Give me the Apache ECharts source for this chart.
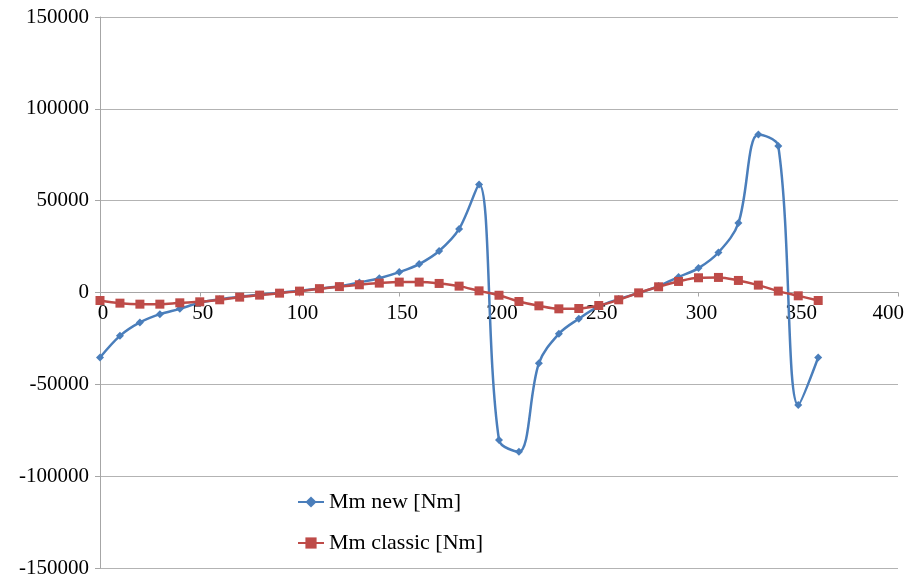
<!DOCTYPE html>
<html>
<head>
<meta charset="utf-8">
<script src="https://cdn.jsdelivr.net/npm/echarts@6/dist/echarts.min.js"></script>
<style>
  html, body { margin: 0; padding: 0; background: #ffffff; }
  #chart { width: 911px; height: 581px; }
</style>
</head>
<body>
<div id="chart"></div>
<script>
// Angle positions (x values)
const angles = [0, 10, 20, 30, 40, 50, 60, 70, 80, 90, 100, 110, 120, 130, 140, 150, 160, 170, 180,
  190, 200, 210, 220, 230, 240, 250, 260, 270, 280, 290, 300, 310, 320, 330, 340, 350, 360];

// Mm new [Nm]
const mmNew = [-35400, -23600, -16300, -11800, -8900, -5600, -3700, -2300, -1200, -200, 900, 2200, 3400,
  5500, 7800, 11100, 15500, 22600, 34600, 58800, -80300, -86700, -38500, -22500, -14300, -7600, -3600,
  -300, 3500, 8400, 13300, 21800, 37800, 86000, 79700, -61300, -35400];

// Mm classic [Nm]
const mmClassic = [-4350, -5800, -6350, -6350, -5620, -5070, -3980, -2530, -1430, -360, 750, 2100, 3200,
  4200, 5110, 5650, 5650, 4930, 3470, 900, -1500, -4890, -7260, -8890, -8710, -7070, -3980, -200, 3100,
  6020, 8020, 8200, 6560, 4020, 750, -1800, -4350];

const seriesNames = ['Mm new [Nm]', 'Mm classic [Nm]'];

const serifFont = '"Liberation Serif", "Times New Roman", serif';
const gridTop = 17, gridBottom = 13, chartHeight = 581;
const plotHeight = chartHeight - gridTop - gridBottom;

const chart = echarts.init(document.getElementById('chart'), null, { renderer: 'canvas' });

const option = {
  backgroundColor: '#ffffff',
  animation: false,
  grid: { left: 100, right: 13, top: gridTop, bottom: gridBottom, containLabel: false, outerBoundsMode: 'none' },
  legend: {
    orient: 'vertical',
    left: 292,
    top: 486,
    itemWidth: 26,
    itemHeight: 14,
    itemGap: 19,
    data: seriesNames,
    textStyle: { fontFamily: serifFont, fontSize: 22, color: '#000000', lineHeight: 22 }
  },
  xAxis: {
    type: 'value',
    min: 0,
    max: 400,
    interval: 50,
    position: 'bottom',
    // place the axis line (with ticks and labels) on the y = 0 line, in the middle of the plot
    offset: -plotHeight / 2,
    axisLine: { show: true, onZero: false, lineStyle: { color: '#a6a6a6', width: 1 } },
    axisTick: { show: true, length: 4, lineStyle: { color: '#a6a6a6' } },
    axisLabel: {
      fontFamily: serifFont, fontSize: 21, color: '#000000', margin: 10,
      alignMaxLabel: 'right', padding: [0, -6, 0, 0]
    },
    splitLine: { show: false }
  },
  yAxis: {
    type: 'value',
    min: -150000,
    max: 150000,
    interval: 50000,
    axisLine: { show: true, onZero: false, lineStyle: { color: '#a6a6a6', width: 1 } },
    axisTick: { show: true, length: 5, lineStyle: { color: '#a6a6a6' } },
    axisLabel: {
      fontFamily: serifFont, fontSize: 21, color: '#000000', margin: 11,
      formatter: function (v) { return String(v); }
    },
    splitLine: { show: true, lineStyle: { color: '#b3b3b3', width: 1 } }
  },
  series: [
    {
      name: seriesNames[0],
      type: 'line',
      data: angles.map((a, i) => [a, mmNew[i]]),
      smooth: 0.35,
      symbol: 'diamond',
      symbolSize: 8,
      showAllSymbol: true,
      z: 3,
      itemStyle: { color: '#4a7ebb' },
      lineStyle: { color: '#4a7ebb', width: 2.5 }
    },
    {
      name: seriesNames[1],
      type: 'line',
      data: angles.map((a, i) => [a, mmClassic[i]]),
      smooth: 0.35,
      symbol: 'rect',
      symbolSize: 9,
      showAllSymbol: true,
      z: 4,
      itemStyle: { color: '#be4b48' },
      lineStyle: { color: '#be4b48', width: 2.5 }
    }
  ]
};

chart.setOption(option);
</script>
</body>
</html>
